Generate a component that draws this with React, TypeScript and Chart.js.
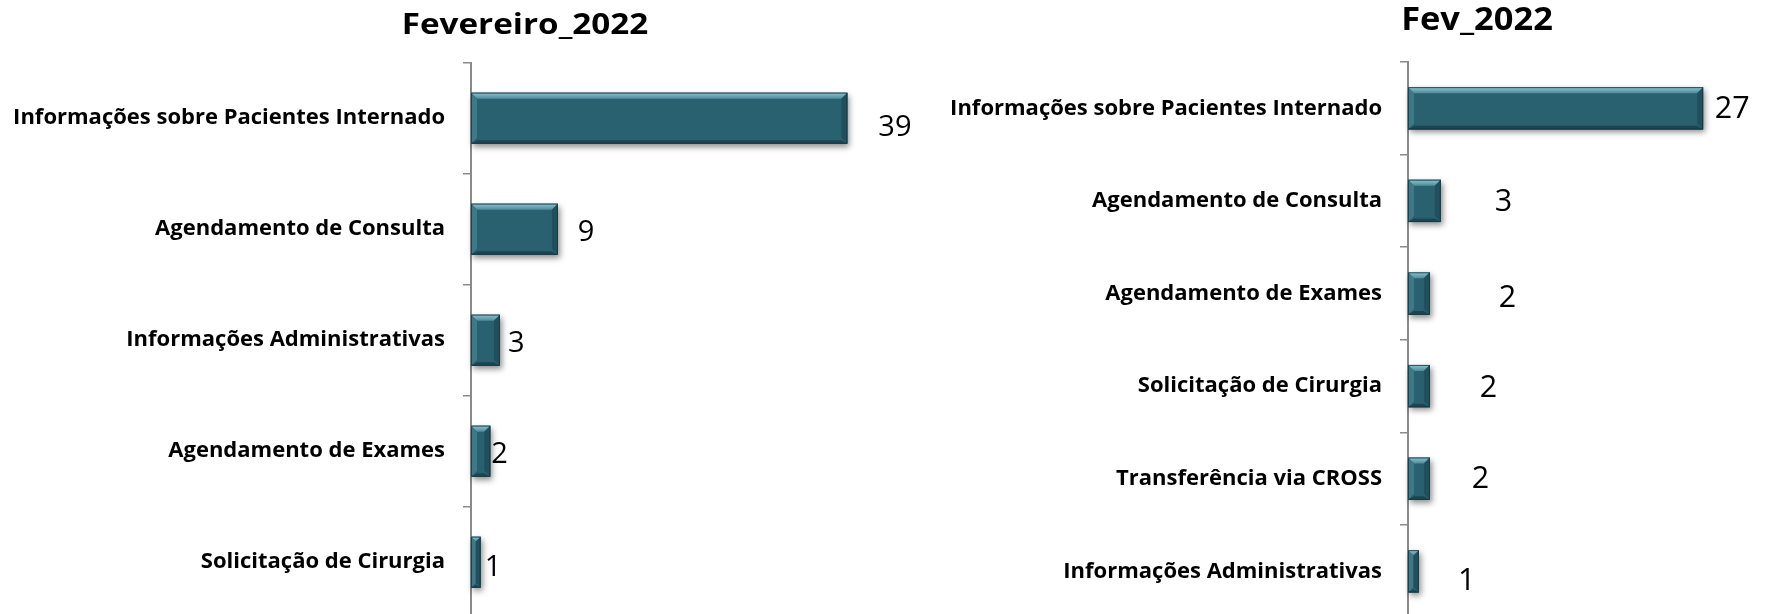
import React, { useEffect, useRef } from 'react';
import { Chart, registerables } from 'chart.js';

Chart.register(...registerables);

// ---- data ----
const leftTitle = 'Fevereiro_2022';
const leftCategories = [
  'Informações sobre Pacientes Internado',
  'Agendamento de Consulta',
  'Informações Administrativas',
  'Agendamento de Exames',
  'Solicitação de Cirurgia',
];
const leftValues = [39, 9, 3, 2, 1];

const rightTitle = 'Fev_2022';
const rightCategories = [
  'Informações sobre Pacientes Internado',
  'Agendamento de Consulta',
  'Agendamento de Exames',
  'Solicitação de Cirurgia',
  'Transferência via CROSS',
  'Informações Administrativas',
];
const rightValues = [27, 3, 2, 2, 2, 1];

// ---- styles (layout) ----
interface PanelStyle {
  width: number;
  height: number;
  axisX: number;
  padTop: number;
  padBottom: number;
  padRight: number;
  xMax: number;
  barPct: number;
  titleX: number;
  titleBaseline: number;
  titleSize: number;
  titleWidth: number;
  labelSize: number;
  labelGaps: number[];
  labelDy: number[];
}

const leftStyle: PanelStyle = {
  width: 930,
  height: 620,
  axisX: 471,
  padTop: 62.7,
  padBottom: 2.3,
  padRight: 73,
  xMax: 40,
  barPct: 0.46,
  titleX: 525,
  titleBaseline: 34,
  titleSize: 28.5,
  titleWidth: 244,
  labelSize: 29,
  labelGaps: [32, 21, 9, 2, 6],
  labelDy: [7.5, 1, 1.5, 1, 3],
};

const rightStyle: PanelStyle = {
  width: 841,
  height: 620,
  axisX: 478,
  padTop: 62,
  padBottom: 2.4,
  padRight: 46,
  xMax: 29,
  barPct: 0.457,
  titleX: 547,
  titleBaseline: 29.5,
  titleSize: 32.5,
  titleWidth: 149,
  labelSize: 30.5,
  labelGaps: [12.7, 55, 70, 51, 43, 41],
  labelDy: [-1, -1, 2.5, 0, -1.5, 8],
};

const BAR_FACE = '#2A6171';
const AXIS_COLOR = '#8a8a8a';
const FONT = '"Open Sans", "DejaVu Sans", sans-serif';

function barRect(el: any) {
  const p = el.getProps(['x', 'y', 'base', 'height'], true);
  const left = Math.min(p.base, p.x);
  const right = Math.max(p.base, p.x);
  const top = p.y - p.height / 2;
  const bottom = p.y + p.height / 2;
  return { left, right, top, bottom, cy: p.y };
}

function makePlugin(title: string, values: number[], st: PanelStyle) {
  return {
    id: 'panelDecor',
    beforeDatasetsDraw(chart: any) {
      const ctx = chart.ctx;
      const meta = chart.getDatasetMeta(0);
      meta.data.forEach((el: any) => {
        const r = barRect(el);
        ctx.save();
        ctx.shadowColor = 'rgba(0,0,0,0.45)';
        ctx.shadowBlur = 6;
        ctx.shadowOffsetX = 2;
        ctx.shadowOffsetY = 3;
        ctx.fillStyle = BAR_FACE;
        ctx.fillRect(r.left, r.top, r.right - r.left, r.bottom - r.top);
        ctx.restore();
      });
    },
    afterDatasetsDraw(chart: any) {
      const ctx = chart.ctx;
      const meta = chart.getDatasetMeta(0);
      meta.data.forEach((el: any) => {
        const { left, right, top, bottom } = barRect(el);
        const w = right - left;
        const h = bottom - top;
        const b = Math.max(1, Math.min(6, w / 2, h / 4));
        ctx.save();
        // top bevel
        const gTop = ctx.createLinearGradient(0, top, 0, top + b);
        gTop.addColorStop(0, '#8fc3d0');
        gTop.addColorStop(1, '#4f8c9c');
        ctx.fillStyle = gTop;
        ctx.beginPath();
        ctx.moveTo(left, top);
        ctx.lineTo(right, top);
        ctx.lineTo(right - b, top + b);
        ctx.lineTo(left + b, top + b);
        ctx.closePath();
        ctx.fill();
        // left bevel
        ctx.fillStyle = '#3f7888';
        ctx.beginPath();
        ctx.moveTo(left, top);
        ctx.lineTo(left + b, top + b);
        ctx.lineTo(left + b, bottom - b);
        ctx.lineTo(left, bottom);
        ctx.closePath();
        ctx.fill();
        // right bevel
        ctx.fillStyle = '#20505e';
        ctx.beginPath();
        ctx.moveTo(right, top);
        ctx.lineTo(right, bottom);
        ctx.lineTo(right - b, bottom - b);
        ctx.lineTo(right - b, top + b);
        ctx.closePath();
        ctx.fill();
        // bottom bevel
        ctx.fillStyle = '#1c4552';
        ctx.beginPath();
        ctx.moveTo(left, bottom);
        ctx.lineTo(right, bottom);
        ctx.lineTo(right - b, bottom - b * 0.6);
        ctx.lineTo(left + b, bottom - b * 0.6);
        ctx.closePath();
        ctx.fill();
        // outline
        ctx.strokeStyle = 'rgba(20,55,65,0.8)';
        ctx.lineWidth = 1;
        ctx.strokeRect(left + 0.5, top + 0.5, w - 1, h - 1);
        ctx.restore();
      });
    },
    afterDraw(chart: any) {
      const ctx = chart.ctx;
      // title
      ctx.save();
      ctx.font = `bold ${st.titleSize}px ${FONT}`;
      ctx.fillStyle = '#000';
      ctx.textAlign = 'center';
      ctx.textBaseline = 'alphabetic';
      const tm = ctx.measureText(title);
      const inkW = tm.actualBoundingBoxLeft + tm.actualBoundingBoxRight;
      const sx = inkW > 0 ? st.titleWidth / inkW : 1;
      ctx.translate(st.titleX, st.titleBaseline);
      ctx.scale(sx, 1);
      ctx.fillText(title, 0, 0);
      ctx.restore();

      // data labels
      const meta = chart.getDatasetMeta(0);
      ctx.save();
      ctx.font = `${st.labelSize}px ${FONT}`;
      ctx.fillStyle = '#000';
      ctx.textAlign = 'left';
      ctx.textBaseline = 'alphabetic';
      meta.data.forEach((el: any, i: number) => {
        const r = barRect(el);
        const text = String(values[i]);
        const m = ctx.measureText(text);
        const inkLeft = r.right + (st.labelGaps[i] ?? 10);
        const drawX = inkLeft + m.actualBoundingBoxLeft;
        const cy = r.cy + (st.labelDy[i] ?? 0);
        const baseline = cy + (m.actualBoundingBoxAscent - m.actualBoundingBoxDescent) / 2;
        ctx.fillText(text, drawX, baseline);
      });
      ctx.restore();
    },
  };
}

function buildChart(canvas: HTMLCanvasElement, title: string, cats: string[], values: number[], st: PanelStyle) {
  return new Chart(canvas, {
    type: 'bar',
    data: {
      labels: cats,
      datasets: [
        {
          data: values,
          backgroundColor: BAR_FACE,
          borderWidth: 0,
          categoryPercentage: 1,
          barPercentage: st.barPct,
        },
      ],
    },
    options: {
      indexAxis: 'y',
      animation: false,
      responsive: false,
      maintainAspectRatio: false,
      devicePixelRatio: 1,
      events: [],
      layout: {
        padding: { left: 0, top: st.padTop, bottom: st.padBottom, right: st.padRight },
      },
      plugins: {
        legend: { display: false },
        title: { display: false },
        tooltip: { enabled: false },
      },
      scales: {
        x: {
          display: false,
          min: 0,
          max: st.xMax,
        },
        y: {
          type: 'category',
          position: 'left',
          offset: true,
          border: { display: true, color: AXIS_COLOR, width: 2 },
          grid: {
            display: true,
            offset: true,
            drawOnChartArea: false,
            drawTicks: true,
            tickLength: 8,
            color: AXIS_COLOR,
            lineWidth: 1.5,
          },
          ticks: {
            autoSkip: false,
            padding: 18,
            color: '#000',
            font: { family: FONT, weight: 'bold', size: 22 },
          },
          afterFit(scale: any) {
            scale.width = st.axisX;
            scale.paddingTop = 0;
            scale.paddingBottom = 0;
          },
        },
      },
    } as any,
    plugins: [makePlugin(title, values, st) as any],
  });
}

export default function App() {
  const leftRef = useRef<HTMLCanvasElement>(null);
  const rightRef = useRef<HTMLCanvasElement>(null);

  useEffect(() => {
    const charts: Chart[] = [];
    if (leftRef.current) charts.push(buildChart(leftRef.current, leftTitle, leftCategories, leftValues, leftStyle));
    if (rightRef.current) charts.push(buildChart(rightRef.current, rightTitle, rightCategories, rightValues, rightStyle));
    return () => charts.forEach((c) => c.destroy());
  }, []);

  return (
    <div
      style={{
        position: 'fixed',
        left: 0,
        top: 0,
        width: 1771,
        height: 614,
        overflow: 'hidden',
        background: '#ffffff',
      }}
    >
      <canvas
        ref={leftRef}
        width={leftStyle.width}
        height={leftStyle.height}
        style={{ position: 'absolute', left: 0, top: 0, display: 'block' }}
      />
      <canvas
        ref={rightRef}
        width={rightStyle.width}
        height={rightStyle.height}
        style={{ position: 'absolute', left: leftStyle.width, top: 0, display: 'block' }}
      />
    </div>
  );
}
